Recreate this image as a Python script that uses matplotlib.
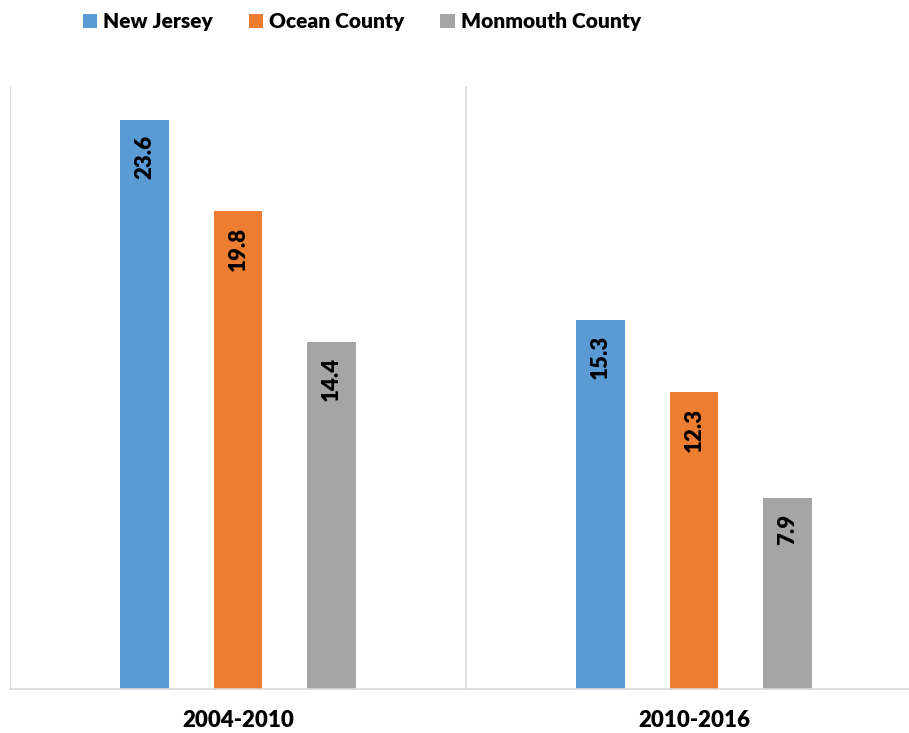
import matplotlib.pyplot as plt
import numpy as np

periods = ["2004-2010", "2010-2016"]
series = ["New Jersey", "Ocean County", "Monmouth County"]
new_jersey = [23.6, 15.3]
ocean = [19.8, 12.3]
monmouth = [14.4, 7.9]
colors = ["#5B9BD5", "#ED7D31", "#A5A5A5"]

plt.rcParams['font.family'] = ['Lato', 'DejaVu Sans']

fig = plt.figure(figsize=(9.09, 7.33), dpi=100)
# axes spans past the right edge like the original (cropped) chart
ax = fig.add_axes([10 / 909, 1 - 689 / 733, 912 / 909, (689 - 86) / 733])

x = np.arange(len(periods))
w = 0.107
off = 0.205
for i, (vals, name) in enumerate(zip([new_jersey, ocean, monmouth], series)):
    bars = ax.bar(x + (i - 1) * off, vals, w, color=colors[i], label=name)
    for b, v in zip(bars, vals):
        ax.annotate(f"{v:.1f}", (b.get_x() + b.get_width() / 2, v),
                    xytext=(0, -11), textcoords="offset points",
                    rotation=90, ha="center", va="top",
                    fontsize=16, fontweight="heavy", color="black")

ax.set_xlim(-0.5, 1.5)
ax.set_ylim(0, 25)
ax.set_yticks([])
ax.set_xticks(x)
ax.set_xticklabels(periods, fontsize=16, fontweight="heavy")
ax.tick_params(axis="x", length=0, pad=15)
for s in ["top", "right", "left"]:
    ax.spines[s].set_visible(False)
ax.spines["bottom"].set_color("#D9D9D9")
ax.spines["bottom"].set_linewidth(1.2)
for b in [-0.5, 0.5, 1.5]:
    ax.axvline(b, color="#D9D9D9", lw=1.2, zorder=0)

fig.legend(loc="upper left", bbox_to_anchor=(70 / 909, 1.0), ncol=3, frameon=False,
           prop={"weight": "heavy", "size": 15}, handlelength=0.7, handleheight=0.7,
           handletextpad=0.3, columnspacing=1.7, borderaxespad=0.2)

fig.savefig("out.png", dpi=100)
